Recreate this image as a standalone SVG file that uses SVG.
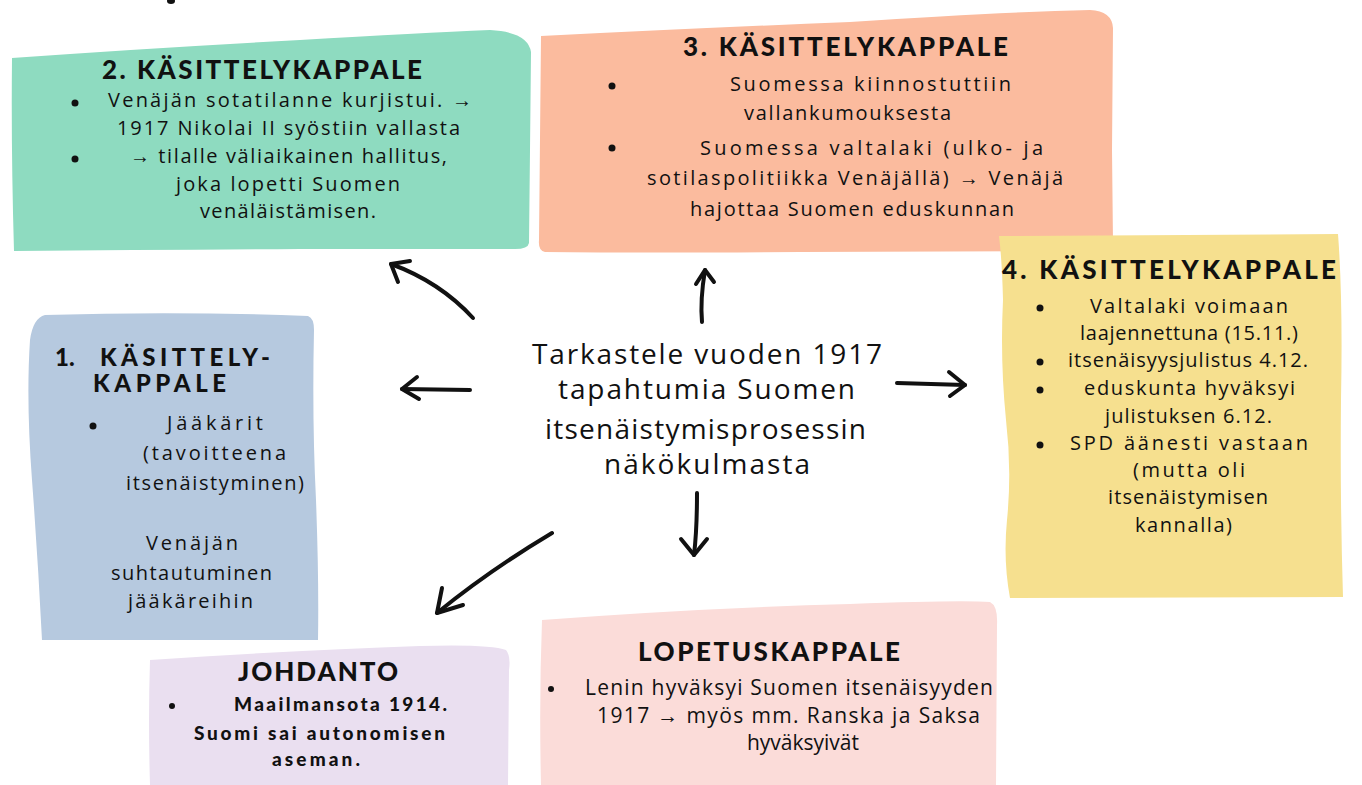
<svg xmlns="http://www.w3.org/2000/svg" width="1362" height="785" viewBox="0 0 1362 785">
<defs>
<style>
.t{font-family:"Lato","Open Sans",sans-serif;font-weight:900;font-size:26px;fill:#111;}
.t1{font-family:"Lato","Open Sans",sans-serif;font-weight:900;font-size:24px;fill:#111;}
.b{font-family:"Open Sans","Noto Sans",sans-serif;font-size:20px;fill:#111;}
.bb{font-family:"Lato","Open Sans",sans-serif;font-weight:900;font-size:19px;fill:#111;}
.n{font-family:"Open Sans","Noto Sans",sans-serif;font-size:21px;fill:#111;}
.c{font-family:"Open Sans","Noto Sans",sans-serif;font-size:28px;fill:#111;}
.arr{fill:none;stroke:#111;stroke-width:4;stroke-linecap:round;stroke-linejoin:round;}
</style>
</defs>
<rect width="1362" height="785" fill="#ffffff"/>
<ellipse cx="171" cy="1" rx="4" ry="3" fill="#111"/>

<g id="node-kasittely2">
<path d="M12,58 Q150,48 300,40 Q420,33 490,30 Q528,32 531,52 L530,150 L529,243 Q528,249 515,249 L300,249 Q150,250 14,251 Q11,150 12,58 Z" fill="#8edbc0"/>
<text class="t" x="102" y="79" textLength="320">2. KÄSITTELYKAPPALE</text>
<circle cx="75" cy="103" r="3.5" fill="#111"/>
<text class="b" x="108" y="107" textLength="364">Venäjän sotatilanne kurjistui. →</text>
<text class="b" x="117" y="135" textLength="343">1917 Nikolai II syöstiin vallasta</text>
<circle cx="75" cy="159" r="3.5" fill="#111"/>
<text class="b" x="130" y="163" textLength="317">→ tilalle väliaikainen hallitus,</text>
<text class="b" x="176" y="191" textLength="224">joka lopetti Suomen</text>
<text class="b" x="200" y="218" textLength="176">venäläistämisen.</text>
</g>

<g id="node-kasittely3">
<path d="M541,36 Q700,28 850,22 Q1000,12 1090,10 Q1112,11 1113,28 L1112,150 L1113,244 Q1112,251 1095,251 L800,252 Q650,253 545,252 Q538,251 539,240 L541,36 Z" fill="#fbbb9e"/>
<text class="t" x="683" y="56" textLength="325">3. KÄSITTELYKAPPALE</text>
<circle cx="612" cy="86" r="3.5" fill="#111"/>
<text class="b" x="730" y="91" textLength="281">Suomessa kiinnostuttiin</text>
<text class="b" x="744" y="120" textLength="207">vallankumouksesta</text>
<circle cx="612" cy="148" r="3.5" fill="#111"/>
<text class="b" x="700" y="155" textLength="343">Suomessa valtalaki (ulko- ja</text>
<text class="b" x="647" y="185" textLength="416">sotilaspolitiikka Venäjällä) → Venäjä</text>
<text class="b" x="690" y="216" textLength="324">hajottaa Suomen eduskunnan</text>
</g>

<g id="node-kasittely4">
<path d="M999,236 L1338,234 Q1343,300 1341,400 Q1340,500 1343,597 L1010,598 Q1003,560 1007,520 Q1012,470 1006,420 Q1000,360 1003,300 Q1002,260 999,236 Z" fill="#f6e08f"/>
<text class="t" x="1002" y="279" textLength="334">4. KÄSITTELYKAPPALE</text>
<circle cx="1040" cy="308" r="3.5" fill="#111"/>
<text class="b" x="1090" y="313" textLength="198">Valtalaki voimaan</text>
<text class="b" x="1080" y="340" textLength="218">laajennettuna (15.11.)</text>
<circle cx="1040" cy="362" r="3.5" fill="#111"/>
<text class="b" x="1068" y="367" textLength="240">itsenäisyysjulistus 4.12.</text>
<circle cx="1040" cy="390" r="3.5" fill="#111"/>
<text class="b" x="1084" y="395" textLength="211">eduskunta hyväksyi</text>
<text class="b" x="1105" y="423" textLength="167">julistuksen 6.12.</text>
<circle cx="1040" cy="445" r="3.5" fill="#111"/>
<text class="b" x="1070" y="450" textLength="238">SPD äänesti vastaan</text>
<text class="b" x="1133" y="477" textLength="112">(mutta oli</text>
<text class="b" x="1108" y="504" textLength="160">itsenäistymisen</text>
<text class="b" x="1135" y="532" textLength="97">kannalla)</text>
</g>

<g id="node-kasittely1">
<path d="M45,315 Q180,311 308,316 Q314,318 314,330 Q312,420 316,500 Q319,580 318,640 L42,640 Q38,560 32,480 Q26,400 30,340 Q33,318 45,315 Z" fill="#b6c9df"/>
<text class="t1" x="55" y="366">1.</text>
<text class="t1" x="100" y="366" textLength="170">KÄSITTELY-</text>
<text class="t1" x="93" y="392" textLength="133">KAPPALE</text>
<circle cx="93" cy="426" r="3.5" fill="#111"/>
<text class="b" x="167" y="430" textLength="96">Jääkärit</text>
<text class="b" x="143" y="460" textLength="143">(tavoitteena</text>
<text class="b" x="126" y="490" textLength="178">itsenäistyminen)</text>
<text class="b" x="146" y="550" textLength="92">Venäjän</text>
<text class="b" x="111" y="580" textLength="161">suhtautuminen</text>
<text class="b" x="128" y="608" textLength="125">jääkäreihin</text>
</g>

<g id="node-johdanto">
<path d="M150,660 Q300,650 420,646 Q490,644 506,650 Q511,656 509,670 L508,785 L150,785 Q148,720 150,660 Z" fill="#eadff0"/>
<text class="t" x="238" y="681" textLength="160">JOHDANTO</text>
<circle cx="172" cy="706" r="3" fill="#111"/>
<text class="bb" x="234" y="711" textLength="213">Maailmansota 1914.</text>
<text class="bb" x="194" y="740" textLength="251">Suomi sai autonomisen</text>
<text class="bb" x="272" y="766" textLength="88">aseman.</text>
</g>

<g id="node-lopetus">
<path d="M542,620 Q700,608 850,604 Q960,600 990,602 Q998,606 997,625 L996,785 L541,785 Q539,700 542,620 Z" fill="#fbdcd9"/>
<text class="t" x="638" y="661" textLength="262">LOPETUSKAPPALE</text>
<circle cx="551" cy="689" r="3" fill="#111"/>
<text class="n" x="585" y="695" textLength="408">Lenin hyväksyi Suomen itsenäisyyden</text>
<text class="n" x="597" y="723" textLength="383">1917 → myös mm. Ranska ja Saksa</text>
<text class="n" x="803" y="750" text-anchor="middle">hyväksyivät</text>
</g>

<g id="node-center">
<text class="c" x="532" y="364" textLength="350">Tarkastele vuoden 1917</text>
<text class="c" x="558" y="399" textLength="297">tapahtumia Suomen</text>
<text class="c" x="545" y="439" textLength="321">itsenäistymisprosessin</text>
<text class="c" x="604" y="474" textLength="206">näkökulmasta</text>
</g>

<g id="connectors">
<path class="arr" d="M473,318 Q440,282 391,264"/>
<path class="arr" d="M410,261 L391,264 L398,282"/>
<path class="arr" d="M702,322 Q700,300 705,270"/>
<path class="arr" d="M696,284 L705,270 L714,282"/>
<path class="arr" d="M470,390 L402,389"/>
<path class="arr" d="M417,377 L402,389 L419,399"/>
<path class="arr" d="M897,383 L965,385"/>
<path class="arr" d="M949,372 L965,385 L950,396"/>
<path class="arr" d="M697,493 Q697,530 694,555"/>
<path class="arr" d="M681,539 L694,555 L707,539"/>
<path class="arr" d="M552,533 Q490,570 437,613"/>
<path class="arr" d="M442,588 L437,613 L463,605"/>
</g>
</svg>
